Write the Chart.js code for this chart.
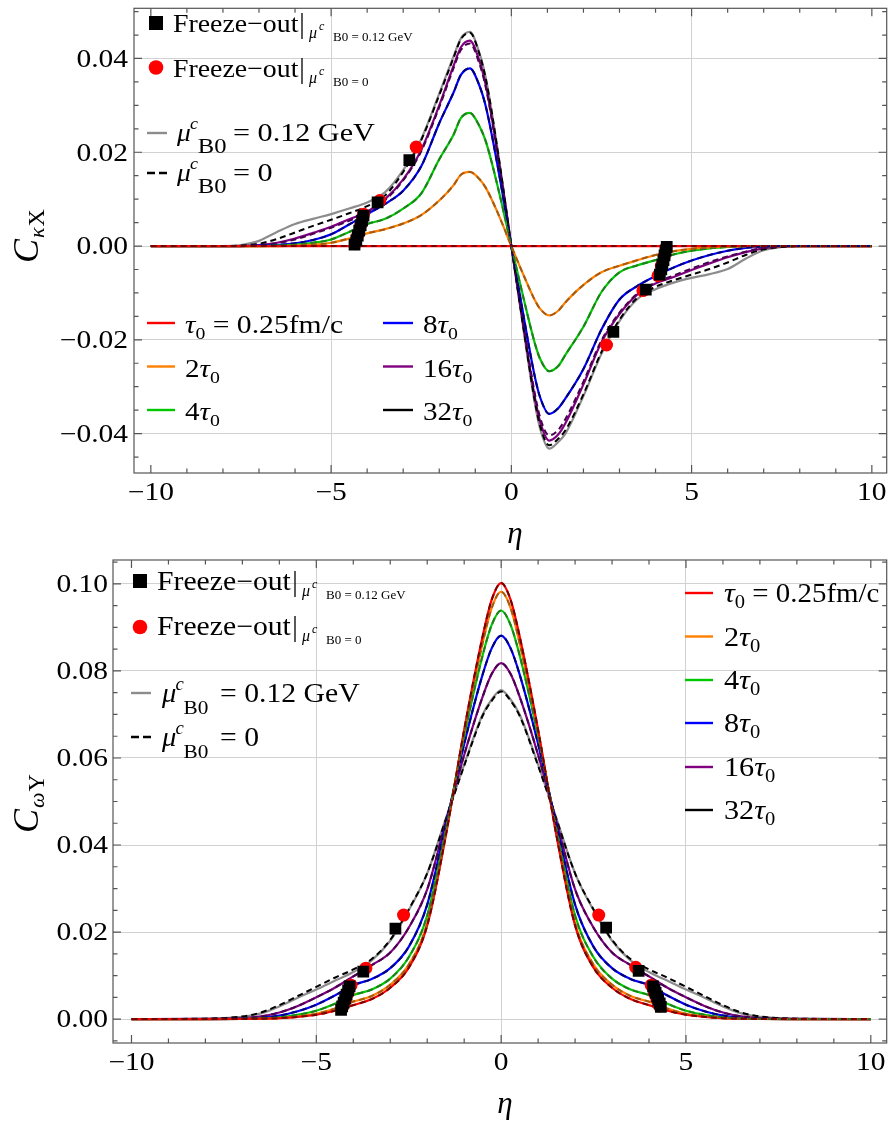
<!DOCTYPE html>
<html>
<head>
<meta charset="utf-8">
<script src="https://cdn.jsdelivr.net/npm/chart.js@4.4.1/dist/chart.umd.min.js"></script>
<style>
  html, body { margin: 0; padding: 0; background: #fff; }
  #wrap { position: relative; width: 895px; height: 1129px; overflow: hidden; }
  #cK { position: absolute; left: 0; top: 0; }
  #cW { position: absolute; left: 0; top: 540px; }
</style>
</head>
<body>
<div id="wrap">
  <canvas id="cK" width="895" height="560"></canvas>
  <canvas id="cW" width="895" height="589"></canvas>
</div>
<script>
// ---------- C_κX (upper panel) ----------
const etaK = [-10, -8, -7.5, -7, -6.5, -6, -5.5, -5, -4.5, -4, -3.5, -3, -2.5, -2, -1.6, -1.4, -1.15, -0.9, -0.7, -0.35, 0, 0.35, 0.65, 0.8, 1.05, 1.3, 1.5, 2, 2.5, 3, 3.5, 4, 4.5, 5, 5.5, 6, 6.5, 7, 7.5, 8, 10];
const kxTau1 = [0, 0, 0, 0, 0, 0, 0, 0, 0, 0, 0, 0, 0, 0, 0, 0, 0, 0, 0, 0, 0, 0, 0, 0, 0, 0, 0, 0, 0, 0, 0, 0, 0, 0, 0, 0, 0, 0, 0, 0, 0];
const kxTau2 = [0, 0, 0, 0, 0, 0.0001, 0.0003, 0.0007, 0.0016, 0.0027, 0.0036, 0.0048, 0.0066, 0.0097, 0.0130, 0.0152, 0.0158, 0.0144, 0.0123, 0.0066, 0, -0.0064, -0.0115, -0.0134, -0.0148, -0.0138, -0.0120, -0.0083, -0.0056, -0.0042, -0.0030, -0.0019, -0.0011, -0.0006, -0.0003, -0.0001, 0, 0, 0, 0, 0];
const kxTau4 = [0, 0, 0, 0, 0.0001, 0.0003, 0.0007, 0.0014, 0.0030, 0.0047, 0.0058, 0.0080, 0.0112, 0.0185, 0.0238, 0.0273, 0.0284, 0.0258, 0.0221, 0.0118, 0, -0.0115, -0.0207, -0.0241, -0.0267, -0.0256, -0.0232, -0.0172, -0.0098, -0.0056, -0.0041, -0.0030, -0.0018, -0.0010, -0.0005, -0.0002, 0, 0, 0, 0, 0];
const kxTau8 = [0, 0, 0, 0.0001, 0.0002, 0.0006, 0.0013, 0.0025, 0.0046, 0.0068, 0.0090, 0.0118, 0.0170, 0.0262, 0.0328, 0.0365, 0.0379, 0.0345, 0.0295, 0.0158, 0, -0.0154, -0.0278, -0.0323, -0.0358, -0.0346, -0.0325, -0.0262, -0.0178, -0.0114, -0.0085, -0.0064, -0.0046, -0.0031, -0.0019, -0.0010, -0.0004, -0.0001, 0, 0, 0];
const kxTau16 = [0, 0, 0, 0.0002, 0.0007, 0.0016, 0.0028, 0.0041, 0.0057, 0.0073, 0.0100, 0.0142, 0.0205, 0.0300, 0.0385, 0.0424, 0.0438, 0.0398, 0.0340, 0.0182, 0, -0.0178, -0.0322, -0.0375, -0.0415, -0.0402, -0.0378, -0.0295, -0.0205, -0.0145, -0.0103, -0.0080, -0.0066, -0.0051, -0.0037, -0.0024, -0.0013, -0.0005, -0.0001, 0, 0];
const kxTau16Mu0 = [0, 0, 0, 0.0002, 0.0006, 0.0014, 0.0026, 0.0039, 0.0054, 0.0070, 0.0098, 0.0140, 0.0202, 0.0296, 0.0380, 0.0418, 0.0432, 0.0392, 0.0335, 0.0179, 0, -0.0174, -0.0314, -0.0366, -0.0404, -0.0392, -0.0369, -0.0289, -0.0201, -0.0142, -0.0101, -0.0078, -0.0063, -0.0048, -0.0034, -0.0022, -0.0012, -0.0004, -0.0001, 0, 0];
const kxTau32 = [0, 0, 0.0002, 0.0011, 0.0030, 0.0047, 0.0058, 0.0068, 0.0080, 0.0093, 0.0115, 0.0162, 0.0228, 0.0325, 0.0405, 0.0443, 0.0457, 0.0415, 0.0355, 0.0190, 0, -0.0185, -0.0335, -0.0390, -0.0432, -0.0418, -0.0400, -0.0320, -0.0230, -0.0160, -0.0113, -0.0092, -0.0078, -0.0068, -0.0060, -0.0049, -0.0027, -0.0009, -0.0002, 0, 0];
const kxTau32Mu0 = [0, 0, 0.0001, 0.0005, 0.0015, 0.0029, 0.0043, 0.0056, 0.0070, 0.0085, 0.0108, 0.0158, 0.0226, 0.0322, 0.0402, 0.0441, 0.0455, 0.0413, 0.0353, 0.0189, 0, -0.0182, -0.0330, -0.0384, -0.0425, -0.0411, -0.0393, -0.0316, -0.0226, -0.0157, -0.0110, -0.0087, -0.0073, -0.0061, -0.0049, -0.0035, -0.0019, -0.0007, -0.0002, 0, 0];
// freeze-out points
const kxFrzSqEta = [-2.83, -3.71, -4.10, -4.14, -4.18, -4.22, -4.26, -4.30, -4.35, 2.83, 3.73, 4.12, 4.16, 4.19, 4.22, 4.25, 4.28, 4.31];
const kxFrzSqVal = [0.0183, 0.0093, 0.0065, 0.0054, 0.0044, 0.0033, 0.0022, 0.0012, 0.0003, -0.0183, -0.0093, -0.0061, -0.0050, -0.0040, -0.0030, -0.0020, -0.0010, -0.0002];
const kxFrzCiEta = [-2.64, -3.65, -4.10, -4.18, -4.26, -4.33, 2.64, 3.65, 4.07, 4.16, 4.24, 4.29];
const kxFrzCiVal = [0.0211, 0.0097, 0.0068, 0.0045, 0.0024, 0.0005, -0.0211, -0.0095, -0.0063, -0.0042, -0.0022, -0.0004];

// ---------- C_ωY (lower panel) ----------
const etaW = [-10, -8, -7, -6.5, -6, -5.5, -5, -4.5, -4, -3.5, -3, -2.5, -2, -1.5, -1, -0.5, -0.25, 0, 0.25, 0.5, 1, 1.5, 2, 2.5, 3, 3.5, 4, 4.5, 5, 5.5, 6, 6.5, 7, 8, 10];
const wyTau1 = [0, 0, 0.00003, 0.00008, 0.0002, 0.0005, 0.0010, 0.0019, 0.0032, 0.0046, 0.0072, 0.0118, 0.0215, 0.0420, 0.0665, 0.0880, 0.0965, 0.1002, 0.0965, 0.0880, 0.0665, 0.0420, 0.0215, 0.0118, 0.0072, 0.0046, 0.0032, 0.0019, 0.0010, 0.0005, 0.0002, 0.00008, 0.00003, 0, 0];
const wyTau2 = [0, 0, 0.00002, 0.00006, 0.0002, 0.0006, 0.0012, 0.0024, 0.0040, 0.0053, 0.0079, 0.0125, 0.0220, 0.0424, 0.0660, 0.0864, 0.0946, 0.0982, 0.0946, 0.0864, 0.0660, 0.0424, 0.0220, 0.0125, 0.0079, 0.0053, 0.0040, 0.0024, 0.0012, 0.0006, 0.0002, 0.00006, 0.00002, 0, 0];
const wyTau4 = [0, 0, 0.00005, 0.00015, 0.0004, 0.0010, 0.0019, 0.0035, 0.0055, 0.0068, 0.0093, 0.0142, 0.0238, 0.0434, 0.0650, 0.0836, 0.0907, 0.0939, 0.0907, 0.0836, 0.0650, 0.0434, 0.0238, 0.0142, 0.0093, 0.0068, 0.0055, 0.0035, 0.0019, 0.0010, 0.0004, 0.00015, 0.00005, 0, 0];
const wyTau8 = [0, 0, 0.0001, 0.0003, 0.0008, 0.0018, 0.0033, 0.0054, 0.0078, 0.0092, 0.0117, 0.0166, 0.0263, 0.0445, 0.0632, 0.0792, 0.0853, 0.0881, 0.0853, 0.0792, 0.0632, 0.0445, 0.0263, 0.0166, 0.0117, 0.0092, 0.0078, 0.0054, 0.0033, 0.0018, 0.0008, 0.0003, 0.0001, 0, 0];
const wyTau16 = [0, 0.00003, 0.0002, 0.0006, 0.0015, 0.0030, 0.0050, 0.0072, 0.0098, 0.0124, 0.0153, 0.0210, 0.0298, 0.0453, 0.0607, 0.0741, 0.0794, 0.0818, 0.0794, 0.0741, 0.0607, 0.0453, 0.0298, 0.0210, 0.0153, 0.0124, 0.0098, 0.0072, 0.0050, 0.0030, 0.0015, 0.0006, 0.0002, 0.00003, 0];
const wyTau32 = [0, 0.0001, 0.0005, 0.0013, 0.0029, 0.0049, 0.0068, 0.0088, 0.0108, 0.0135, 0.0180, 0.0250, 0.0335, 0.0460, 0.0585, 0.0700, 0.0735, 0.0756, 0.0735, 0.0700, 0.0585, 0.0460, 0.0335, 0.0250, 0.0180, 0.0135, 0.0108, 0.0088, 0.0068, 0.0049, 0.0029, 0.0013, 0.0005, 0.0001, 0];
const wyTau32Mu0 = [0, 0.0001, 0.0006, 0.0015, 0.0032, 0.0053, 0.0074, 0.0095, 0.0114, 0.0138, 0.0182, 0.0252, 0.0335, 0.0458, 0.0582, 0.0697, 0.0732, 0.0753, 0.0732, 0.0697, 0.0582, 0.0458, 0.0335, 0.0252, 0.0182, 0.0138, 0.0114, 0.0095, 0.0074, 0.0053, 0.0032, 0.0015, 0.0006, 0.0001, 0];
const wyFrzSqEta = [-2.86, -3.73, -4.10, -4.14, -4.18, -4.22, -4.26, -4.30, -4.33, 2.84, 3.72, 4.11, 4.15, 4.18, 4.22, 4.25, 4.29, 4.32];
const wyFrzSqVal = [0.0208, 0.0109, 0.0075, 0.0066, 0.0056, 0.0047, 0.0038, 0.0029, 0.0021, 0.0210, 0.0111, 0.0075, 0.0067, 0.0060, 0.0052, 0.0044, 0.0036, 0.0028];
const wyFrzCiEta = [-2.64, -3.66, -4.06, -4.14, -4.21, -4.28, 2.64, 3.64, 4.06, 4.14, 4.21, 4.28];
const wyFrzCiVal = [0.0239, 0.0117, 0.0078, 0.0060, 0.0044, 0.0029, 0.0239, 0.0119, 0.0078, 0.0060, 0.0046, 0.0030];

// ---------- ticks ----------
const etaTicks = [-10, -5, 0, 5, 10];
const etaGrid = [-5, 0, 5];
const kxTicks = [-0.04, -0.02, 0, 0.02, 0.04];
const wyTicks = [0, 0.02, 0.04, 0.06, 0.08, 0.10];

// ---------- styling ----------
const SERIF = '"Liberation Serif", "Times New Roman", Times, serif';
const GRID = '#d2d2d2';
const FRAME = '#555555';
const C = {
  red: '#ff0000', orange: '#ff8000', green: '#00c800', blue: '#0000ff', purple: '#800080', gray: '#8c8c8c', black: '#000000',
  redD: '#7a0000', orangeD: '#a45a10', greenD: '#1f7f1f', blueD: '#00007a', purpleD: '#4a004f'
};

const pts = (xs, ys) => xs.map((x, i) => ({ x, y: ys[i] }));

function lineSet(xs, ys, color, dashed) {
  return {
    data: pts(xs, ys), borderColor: color, backgroundColor: color,
    borderWidth: dashed ? 2 : 2.2, borderDash: dashed ? [6, 4] : [],
    pointRadius: 0, pointHoverRadius: 0, fill: false,
    cubicInterpolationMode: 'monotone', order: dashed ? 5 : 10
  };
}
function markSet(xs, ys, style) {
  const sq = style === 'rect';
  return {
    data: pts(xs, ys), showLine: false, pointStyle: style,
    pointRadius: sq ? 8.3 : 6.5, pointHoverRadius: sq ? 8.3 : 6.5,
    backgroundColor: sq ? '#000' : '#ff0000', borderColor: sq ? '#000' : '#ff0000',
    pointBorderWidth: 0, order: sq ? 1 : 2
  };
}

// ---------- text helpers (sx = horizontal stretch of the glyphs) ----------
function txt(ctx, s, x, y, size, o = {}) {
  const sx = o.sx ?? 1.12;
  ctx.save();
  ctx.font = (o.italic ? 'italic ' : '') + size + 'px ' + SERIF;
  ctx.textAlign = o.align || 'left';
  ctx.textBaseline = 'alphabetic';
  ctx.fillStyle = o.color || '#000';
  ctx.translate(x, y);
  ctx.scale(sx, 1);
  ctx.fillText(s, 0, 0);
  const w = ctx.measureText(s).width * sx;
  ctx.restore();
  return w;
}
function hline(ctx, x1, x2, y, color, dash) {
  ctx.save();
  ctx.strokeStyle = color; ctx.lineWidth = 2.4; ctx.setLineDash(dash || []);
  ctx.beginPath(); ctx.moveTo(x1, y); ctx.lineTo(x2, y); ctx.stroke();
  ctx.restore();
}
function freezeRow(ctx, mark, mx, my, tx, ty, size, sx, barX, sub) {
  ctx.save();
  if (mark === 'sq') { ctx.fillStyle = '#000'; ctx.fillRect(mx - 7, my - 7, 14, 14); }
  else { ctx.fillStyle = '#ff0000'; ctx.beginPath(); ctx.arc(mx, my, 7.3, 0, Math.PI * 2); ctx.fill(); }
  ctx.restore();
  txt(ctx, 'Freeze−out', tx, ty, size, { sx });
  ctx.save();
  ctx.strokeStyle = '#000'; ctx.lineWidth = 1.3;
  ctx.beginPath(); ctx.moveTo(barX, ty - 19); ctx.lineTo(barX, ty + 7); ctx.stroke();
  ctx.restore();
  txt(ctx, 'μ', barX + 7, ty + 6, 16, { italic: true, sx: 1 });
  txt(ctx, 'c', barX + 17, ty - 2, 12, { italic: true, sx: 1 });
  txt(ctx, sub, barX + 31, ty + 9, 13, { sx: 1 });
}
function muRow(ctx, lx1, lx2, ly, color, dash, x, y, size, bSize, rest, restX, restSx) {
  hline(ctx, lx1, lx2, ly, color, dash);
  txt(ctx, 'μ', x, y, size, { italic: true, sx: 1.06 });
  txt(ctx, 'c', x + size * 0.5, y - size * 0.45, size * 0.66, { italic: true, sx: 1.05 });
  txt(ctx, 'B0', x + size * 0.8, y + size * 0.45, bSize);
  txt(ctx, rest, restX, y, size, { sx: restSx });
}
function tauRow(ctx, lx1, lx2, ly, color, x, y, size, pre, post, postSx) {
  hline(ctx, lx1, lx2, ly, color);
  let cx = x;
  if (pre) cx += txt(ctx, pre, cx, y, size);
  cx += txt(ctx, 'τ', cx, y, size, { italic: true });
  cx += txt(ctx, '0', cx, y + 6, size * 0.68);
  if (post) txt(ctx, post, cx, y, size, { sx: postSx });
}
function yTitle(ctx, x, y, sub1, sub2) {
  ctx.save();
  ctx.translate(x, y); ctx.rotate(-Math.PI / 2);
  let cx = 0;
  cx += txt(ctx, 'C', cx, 0, 36, { italic: true, sx: 1 });
  cx += txt(ctx, sub1, cx + 1, 6, 22, { italic: true, sx: 1 }) + 2;
  txt(ctx, sub2, cx, 6, 24, { sx: 1 });
  ctx.restore();
}
const fmtEta = v => (v < 0 ? '−' : '') + Math.abs(v);
const fmtVal = v => (v < 0 ? '−' : '') + Math.abs(v).toFixed(2);

// frame, inward ticks and tick labels
function frame(chart, yTicks, yMinorFrom, yMinorTo, yLabelRight, xLabelBase) {
  const { ctx, chartArea: a, scales: { x, y } } = chart;
  ctx.save();
  ctx.strokeStyle = FRAME; ctx.lineWidth = 1.2;
  ctx.strokeRect(a.left, a.top, a.right - a.left, a.bottom - a.top);
  ctx.beginPath();
  for (let k = -10; k <= 10; k++) {
    const L = etaTicks.includes(k) ? 8 : 4.5;
    const px = x.getPixelForValue(k);
    ctx.moveTo(px, a.bottom); ctx.lineTo(px, a.bottom - L);
    ctx.moveTo(px, a.top); ctx.lineTo(px, a.top + L);
  }
  for (let k = yMinorFrom; k <= yMinorTo; k++) {
    const L = (k % 4 === 0) ? 8 : 4.5;
    const py = y.getPixelForValue(k * 0.005);
    ctx.moveTo(a.left, py); ctx.lineTo(a.left + L, py);
    ctx.moveTo(a.right, py); ctx.lineTo(a.right - L, py);
  }
  ctx.stroke();
  ctx.restore();
  etaTicks.forEach(v => txt(ctx, fmtEta(v), x.getPixelForValue(v), xLabelBase, 25, { align: 'center', sx: 1.18 }));
  yTicks.forEach(v => txt(ctx, fmtVal(v), yLabelRight, y.getPixelForValue(v) + 8.4, 25, { align: 'right', sx: 1.18 }));
}

function scalesFor(xMin, xMax, yMin, yMax, yTicks, yWidth, xHeight) {
  return {
    x: {
      type: 'linear', min: xMin, max: xMax,
      afterBuildTicks: s => { s.ticks = etaTicks.map(v => ({ value: v })); },
      afterFit: s => { s.height = xHeight; s.paddingLeft = 0; s.paddingRight = 0; },
      grid: { color: c => (c.tick && etaGrid.includes(c.tick.value)) ? GRID : 'rgba(0,0,0,0)', drawTicks: false, lineWidth: 1 },
      border: { display: false },
      ticks: { display: false }
    },
    y: {
      type: 'linear', min: yMin, max: yMax,
      afterBuildTicks: s => { s.ticks = yTicks.map(v => ({ value: v })); },
      afterFit: s => { s.width = yWidth; s.paddingTop = 0; s.paddingBottom = 0; },
      grid: { color: GRID, drawTicks: false, lineWidth: 1 },
      border: { display: false },
      ticks: { display: false }
    }
  };
}

// ---------- upper chart ----------
const kxSolid = [[kxTau1, C.red], [kxTau2, C.orange], [kxTau4, C.green], [kxTau8, C.blue], [kxTau16, C.purple], [kxTau32, C.gray]];
const kxDashed = [[kxTau1, C.redD], [kxTau2, C.orangeD], [kxTau4, C.greenD], [kxTau8, C.blueD], [kxTau16Mu0, C.purpleD], [kxTau32Mu0, C.black]];

new Chart(document.getElementById('cK'), {
  type: 'line',
  data: {
    datasets: [
      markSet(kxFrzSqEta, kxFrzSqVal, 'rect'),
      markSet(kxFrzCiEta, kxFrzCiVal, 'circle'),
      ...kxDashed.map(([v, c]) => lineSet(etaK, v, c, true)),
      ...kxSolid.map(([v, c]) => lineSet(etaK, v, c, false))
    ]
  },
  options: {
    responsive: false, animation: false, devicePixelRatio: 1,
    layout: { padding: { top: 2, right: 1, left: 0, bottom: 0 } },
    plugins: { legend: { display: false }, tooltip: { enabled: false } },
    scales: scalesFor(-10.467, 10.412, -0.0484, 0.0507, kxTicks, 134, 87)
  },
  plugins: [{
    id: 'kxOverlay',
    afterDraw(chart) {
      const ctx = chart.ctx;
      frame(chart, kxTicks, -9, 10, 128, 500);
      // marker legend
      freezeRow(ctx, 'sq', 156, 23, 173, 32, 26, 1.07, 302, 'B0 = 0.12 GeV');
      freezeRow(ctx, 'ci', 156, 67.5, 173, 77, 26, 1.07, 302, 'B0 = 0');
      muRow(ctx, 147, 167, 133, C.gray, null, 177, 141, 26, 22, '= 0.12 GeV', 233, 1.16);
      muRow(ctx, 147, 167, 173, C.black, [8, 4], 177, 181, 26, 22, '= 0', 233, 1.16);
      // τ legend
      tauRow(ctx, 147, 175, 323, C.red, 185, 333, 26, '', ' = 0.25fm/c', 1.14);
      tauRow(ctx, 147, 175, 366.5, C.orange, 185, 376.5, 26, '2', '');
      tauRow(ctx, 147, 175, 410, C.green, 185, 420, 26, '4', '');
      tauRow(ctx, 383, 413, 323, C.blue, 423, 333, 26, '8', '');
      tauRow(ctx, 383, 413, 366.5, C.purple, 423, 376.5, 26, '16', '');
      tauRow(ctx, 383, 413, 410, C.black, 423, 420, 26, '32', '');
      // axis titles
      yTitle(ctx, 38, 263, 'κ', 'X');
      txt(ctx, 'η', 515, 543, 31, { italic: true, align: 'center', sx: 1 });
    }
  }]
});

// ---------- lower chart ----------
const wySolid = [[wyTau1, C.red], [wyTau2, C.orange], [wyTau4, C.green], [wyTau8, C.blue], [wyTau16, C.purple], [wyTau32, C.gray]];
const wyDashed = [[wyTau1, C.redD], [wyTau2, C.orangeD], [wyTau4, C.greenD], [wyTau8, C.blueD], [wyTau16, C.purpleD], [wyTau32Mu0, C.black]];

new Chart(document.getElementById('cW'), {
  type: 'line',
  data: {
    datasets: [
      markSet(wyFrzSqEta, wyFrzSqVal, 'rect'),
      markSet(wyFrzCiEta, wyFrzCiVal, 'circle'),
      ...wyDashed.map(([v, c]) => lineSet(etaW, v, c, true)),
      ...wySolid.map(([v, c]) => lineSet(etaW, v, c, false))
    ]
  },
  options: {
    responsive: false, animation: false, devicePixelRatio: 1,
    layout: { padding: { top: 20, right: 1, left: 0, bottom: 0 } },
    plugins: { legend: { display: false }, tooltip: { enabled: false } },
    scales: scalesFor(-10.50, 10.43, -0.0055, 0.1055, wyTicks, 113, 86)
  },
  plugins: [{
    id: 'wyOverlay',
    afterDraw(chart) {
      const ctx = chart.ctx;
      frame(chart, wyTicks, -1, 21, 108, 1070 - 540);
      ctx.save();
      ctx.translate(0, -540);
      freezeRow(ctx, 'sq', 140, 581, 157, 590, 27, 1.1, 295, 'B0 = 0.12 GeV');
      freezeRow(ctx, 'ci', 140, 627, 157, 635, 27, 1.1, 295, 'B0 = 0');
      muRow(ctx, 131, 151, 693, C.gray, null, 162, 702, 27, 19, '= 0.12 GeV', 220, 1.1);
      muRow(ctx, 131, 151, 737, C.black, [8, 4], 162, 746, 27, 19, '= 0', 220, 1.1);
      const rows = [[593, C.red, '', ' = 0.25fm/c'], [636.5, C.orange, '2', ''], [680, C.green, '4', ''],
                    [723, C.blue, '8', ''], [767, C.purple, '16', ''], [810, C.black, '32', '']];
      rows.forEach(([y, col, pre, post]) => tauRow(ctx, 685, 713, y, col, 724, y + 9, 27, pre, post, 1.07));
      yTitle(ctx, 38, 833, 'ω', 'Y');
      txt(ctx, 'η', 505, 1113, 31, { italic: true, align: 'center', sx: 1 });
      ctx.restore();
    }
  }]
});
</script>
</body>
</html>
